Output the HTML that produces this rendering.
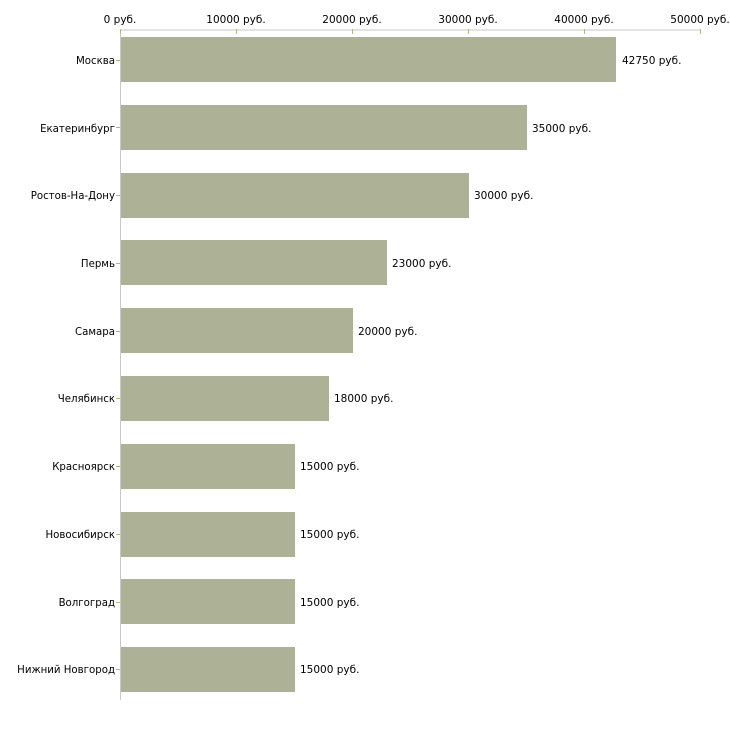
<!DOCTYPE html>
<html><head><meta charset="utf-8"><style>body{margin:0;background:#fff}svg{display:block}text{font-family:"DejaVu Sans","Liberation Sans",sans-serif;font-size:10.5px;fill:#000}.l text{font-size:10.2px}</style></head>
<body>
<svg width="730" height="730" xmlns="http://www.w3.org/2000/svg">
<line x1="120" y1="30" x2="700" y2="30" stroke="#c8c8c8" stroke-width="1"/>
<line x1="120.5" y1="30" x2="120.5" y2="700" stroke="#c8c8c8" stroke-width="1"/>
<g stroke="#b5b57a">
<line x1="120.5" y1="29" x2="120.5" y2="34"/>
<line x1="236.5" y1="29" x2="236.5" y2="34"/>
<line x1="352.5" y1="29" x2="352.5" y2="34"/>
<line x1="468.5" y1="29" x2="468.5" y2="34"/>
<line x1="584.5" y1="29" x2="584.5" y2="34"/>
<line x1="700.5" y1="29" x2="700.5" y2="34"/>
</g>
<g text-anchor="middle">
<text x="120" y="23">0 руб.</text>
<text x="236" y="23">10000 руб.</text>
<text x="352" y="23">20000 руб.</text>
<text x="468" y="23">30000 руб.</text>
<text x="584" y="23">40000 руб.</text>
<text x="700" y="23">50000 руб.</text>
</g>
<g fill="#adb296">
<rect x="121" y="37" width="495" height="45"/>
<rect x="121" y="105" width="406" height="45"/>
<rect x="121" y="173" width="348" height="45"/>
<rect x="121" y="240" width="266" height="45"/>
<rect x="121" y="308" width="232" height="45"/>
<rect x="121" y="376" width="208" height="45"/>
<rect x="121" y="444" width="174" height="45"/>
<rect x="121" y="512" width="174" height="45"/>
<rect x="121" y="579" width="174" height="45"/>
<rect x="121" y="647" width="174" height="45"/>
</g>
<g stroke="#b5b57a">
<line x1="116" y1="60.5" x2="120" y2="60.5"/>
<line x1="116" y1="127.5" x2="120" y2="127.5"/>
<line x1="116" y1="195.5" x2="120" y2="195.5"/>
<line x1="116" y1="263.5" x2="120" y2="263.5"/>
<line x1="116" y1="331.5" x2="120" y2="331.5"/>
<line x1="116" y1="398.5" x2="120" y2="398.5"/>
<line x1="116" y1="466.5" x2="120" y2="466.5"/>
<line x1="116" y1="534.5" x2="120" y2="534.5"/>
<line x1="116" y1="602.5" x2="120" y2="602.5"/>
<line x1="116" y1="669.5" x2="120" y2="669.5"/>
</g>
<g text-anchor="end" class="l">
<text x="115" y="64">Москва</text>
<text x="115" y="132">Екатеринбург</text>
<text x="115" y="199">Ростов-На-Дону</text>
<text x="115" y="267">Пермь</text>
<text x="115" y="335">Самара</text>
<text x="115" y="402">Челябинск</text>
<text x="115" y="470">Красноярск</text>
<text x="115" y="538">Новосибирск</text>
<text x="115" y="606">Волгоград</text>
<text x="115" y="673">Нижний Новгород</text>
</g>
<text x="622" y="64">42750 руб.</text>
<text x="532" y="132">35000 руб.</text>
<text x="474" y="199">30000 руб.</text>
<text x="392" y="267">23000 руб.</text>
<text x="358" y="335">20000 руб.</text>
<text x="334" y="402">18000 руб.</text>
<text x="300" y="470">15000 руб.</text>
<text x="300" y="538">15000 руб.</text>
<text x="300" y="606">15000 руб.</text>
<text x="300" y="673">15000 руб.</text>
</svg>
</body></html>
